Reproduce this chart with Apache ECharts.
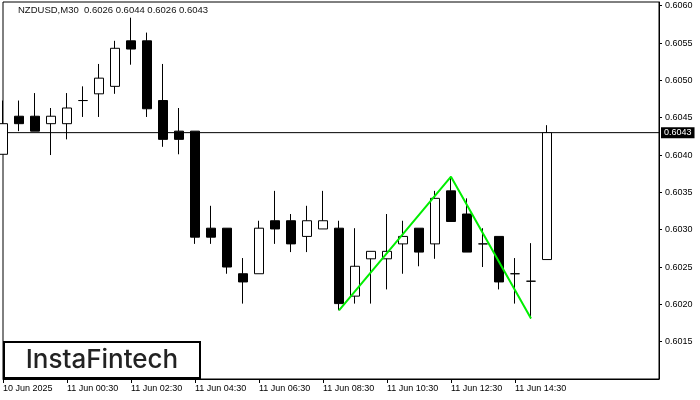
<!DOCTYPE html>
<html>
<head>
<meta charset="utf-8">
<script src="https://cdn.jsdelivr.net/npm/echarts@6/dist/echarts.min.js"></script>
<style>html,body{margin:0;padding:0;background:#fff}#c{width:700px;height:400px}</style>
</head>
<body>
<div id="c"></div>
<script>
var candleTimes = ['10 Jun 22:30','10 Jun 23:00','10 Jun 23:30','11 Jun 00:00','11 Jun 00:30','11 Jun 01:00','11 Jun 01:30','11 Jun 02:00','11 Jun 02:30','11 Jun 03:00','11 Jun 03:30','11 Jun 04:00','11 Jun 04:30','11 Jun 05:00','11 Jun 05:30','11 Jun 06:00','11 Jun 06:30','11 Jun 07:00','11 Jun 07:30','11 Jun 08:00','11 Jun 08:30','11 Jun 09:00','11 Jun 09:30','11 Jun 10:00','11 Jun 10:30','11 Jun 11:00','11 Jun 11:30','11 Jun 12:00','11 Jun 12:30','11 Jun 13:00','11 Jun 13:30','11 Jun 14:00','11 Jun 14:30','11 Jun 15:00','11 Jun 15:30'];
var futureSlots = 7;
var tickLabels = ['10 Jun 2025','11 Jun 00:30','11 Jun 02:30','11 Jun 04:30','11 Jun 06:30','11 Jun 08:30','11 Jun 10:30','11 Jun 12:30','11 Jun 14:30'];
var tickStep = 4;
var opens  = [0.60401,0.60452,0.60452,0.60442,0.60442,0.60473,0.60482,0.60492,0.60553,0.60553,0.60473,0.60432,0.60432,0.60302,0.60302,0.60241,0.60241,0.60312,0.60312,0.60291,0.60301,0.60302,0.60211,0.60261,0.60261,0.60281,0.60302,0.60281,0.60352,0.60321,0.60281,0.60291,0.60241,0.60231,0.6026];
var closes = [0.60442,0.60442,0.60432,0.60452,0.60463,0.60473,0.60503,0.60543,0.60542,0.60462,0.60421,0.60421,0.60290,0.60290,0.60250,0.60230,0.60302,0.60301,0.60281,0.60312,0.60312,0.60201,0.60251,0.60271,0.60271,0.60291,0.60270,0.60342,0.60311,0.60270,0.60281,0.60230,0.60241,0.60231,0.6043];
var highs  = [0.60473,0.60473,0.60483,0.60463,0.60483,0.60492,0.60522,0.60553,0.60584,0.60564,0.60522,0.60463,0.60432,0.60332,0.60302,0.60262,0.60312,0.60352,0.60321,0.60332,0.60352,0.60312,0.60302,0.60271,0.60321,0.60312,0.60302,0.60352,0.60371,0.60342,0.60302,0.60291,0.60262,0.60282,0.6044];
var lows   = [0.60401,0.60432,0.60432,0.60400,0.60421,0.60451,0.60451,0.60482,0.60521,0.60451,0.60411,0.60401,0.60281,0.60281,0.60241,0.60201,0.60241,0.60281,0.60270,0.60270,0.60301,0.60192,0.60201,0.60201,0.60220,0.60241,0.60251,0.60261,0.60311,0.60270,0.60250,0.60220,0.60201,0.60181,0.6026];
var patternIdx = [21, 28, 33];
var patternVal = [0.60192, 0.60371, 0.60181];
var currentPrice = 0.6043;
var titleText = 'NZDUSD,M30  0.6026 0.6044 0.6026 0.6043';
var logoText = 'InstaFintech';

var categories = candleTimes.slice();
for (var i = 0; i < futureSlots; i++) categories.push('');
var ohlc = opens.map(function (o, i) { return [o, closes[i], lows[i], highs[i]]; });
var pattern = patternIdx.map(function (x, i) { return [x, patternVal[i]]; });
var priceLine = categories.map(function () { return currentPrice; });
var labelFont = 'Liberation Sans';
function isTick(idx) { return idx % tickStep === 0 && idx / tickStep < tickLabels.length; }

var chart = echarts.init(document.getElementById('c'), null, {renderer: 'canvas'});
chart.setOption({
  animation: false,
  backgroundColor: '#fff',
  grid: {left: 3, right: 41, top: 2, bottom: 21, show: true, borderColor: '#000', borderWidth: 1, backgroundColor: '#fff'},
  xAxis: {
    type: 'category', data: categories, boundaryGap: false,
    axisLine: {lineStyle: {color: '#000', width: 1}},
    axisTick: {show: true, length: 4, interval: function (idx) { return isTick(idx); }, lineStyle: {color: '#000'}},
    axisLabel: {
      interval: function (idx) { return isTick(idx); },
      formatter: function (v, idx) { return isTick(idx) ? tickLabels[idx / tickStep] : ''; },
      align: 'left', color: '#000', fontFamily: labelFont, fontSize: 9, margin: 5
    },
    splitLine: {show: false}
  },
  yAxis: {
    type: 'value', position: 'right', min: 0.6010, max: 0.60605, interval: 0.0005, scale: true,
    axisLine: {show: true, lineStyle: {color: '#000'}},
    axisTick: {show: true, length: 3, lineStyle: {color: '#000'}},
    axisLabel: {color: '#000', fontFamily: labelFont, fontSize: 9, margin: 6, showMinLabel: false, showMaxLabel: false,
      formatter: function (v) { return v.toFixed(4); }},
    splitLine: {show: false}
  },
  series: [
    {
      type: 'line', data: priceLine, z: 1, silent: true, symbol: 'none',
      lineStyle: {color: '#000', width: 1},
      endLabel: {show: true, distance: 2, formatter: function () { return currentPrice.toFixed(4); },
        color: '#fff', backgroundColor: '#000', fontFamily: labelFont, fontSize: 9, lineHeight: 9, padding: [1, 3, 1, 3]}
    },
    {
      type: 'candlestick', data: ohlc, z: 3, barWidth: 10,
      itemStyle: {color: '#fff', color0: '#000', borderColor: '#000', borderColor0: '#000', borderWidth: 1}
    },
    {
      type: 'line', data: pattern, z: 5, symbol: 'none', silent: true,
      lineStyle: {color: '#00ee00', width: 2}
    }
  ],
  graphic: [
    {type: 'text', left: 18, top: 5, z: 10, style: {text: titleText, fill: '#111', font: '9.5px "Liberation Sans"'}},
    {type: 'group', z: 10, children: [
      {type: 'rect', shape: {x: 4, y: 342, width: 196, height: 36}, style: {fill: '#fff', stroke: '#000', lineWidth: 2}},
      {type: 'text', x: 102, y: 360, style: {text: logoText, fill: '#222', font: '500 26px Inter', textAlign: 'center', textVerticalAlign: 'middle'}}
    ]}
  ]
});
</script>
</body>
</html>
